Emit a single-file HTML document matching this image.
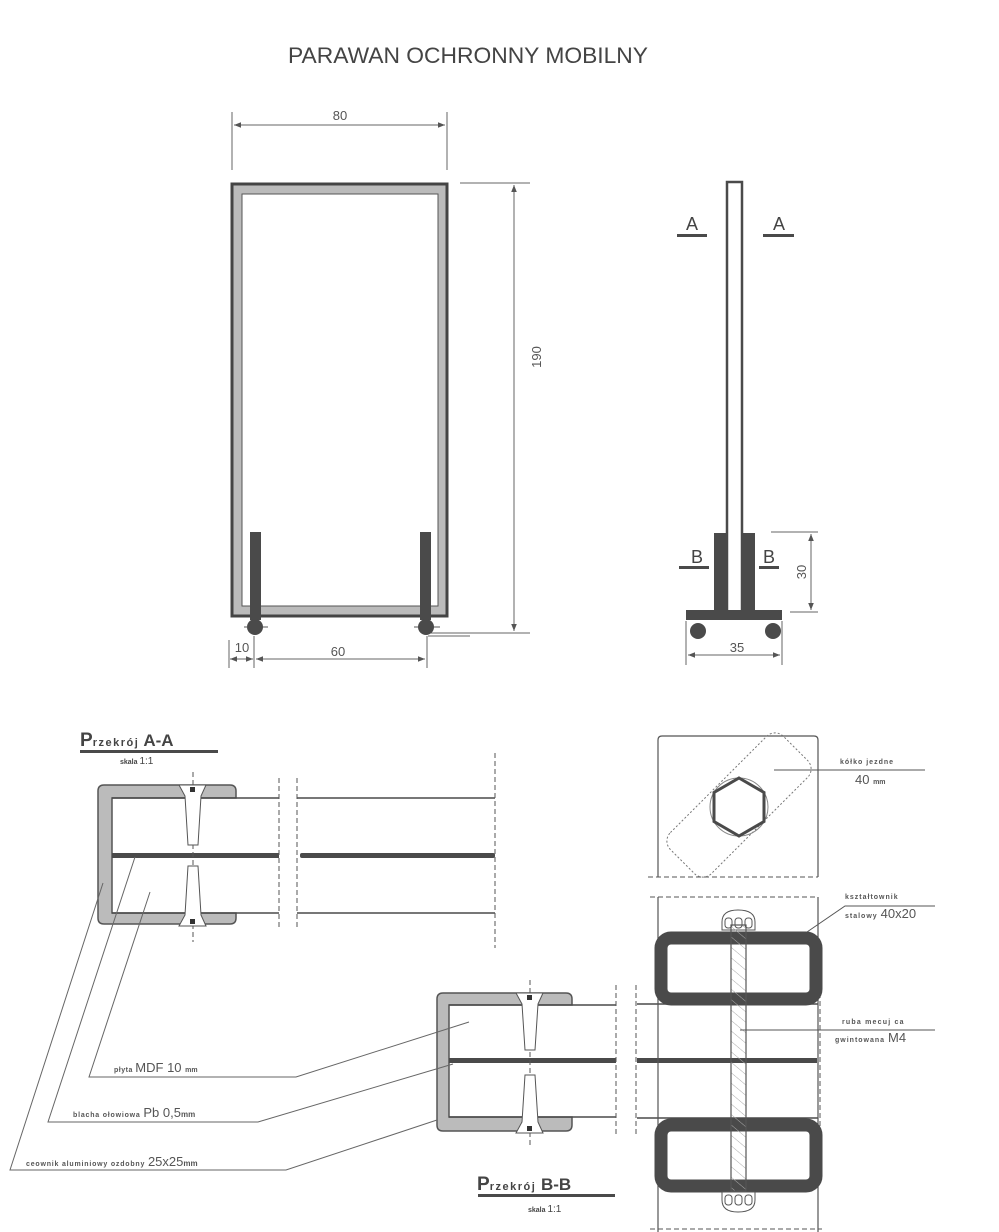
<!DOCTYPE html>
<html><head><meta charset="utf-8"><style>
html,body{margin:0;padding:0;background:#fff;}
svg{display:block;font-family:"Liberation Sans",sans-serif;}
</style></head><body>
<svg width="999" height="1232" viewBox="0 0 999 1232" xmlns="http://www.w3.org/2000/svg">
<defs>
<marker id="ar" viewBox="0 0 10 10" refX="10" refY="5" markerWidth="9" markerHeight="7" orient="auto-start-reverse"><path d="M0,1 L10,5 L0,9 z" fill="#555"/></marker>
<pattern id="hat" width="8" height="8" patternUnits="userSpaceOnUse" patternTransform="rotate(-50)"><line x1="0" y1="0" x2="0" y2="8" stroke="#aaa" stroke-width="1"/></pattern>
</defs>
<text x="468" y="63" text-anchor="middle" font-size="22" fill="#444" textLength="360" lengthAdjust="spacingAndGlyphs">PARAWAN OCHRONNY MOBILNY</text>

<!-- FRONT VIEW -->
<g stroke="#666" stroke-width="1">
<line x1="232" y1="112" x2="232" y2="170"/><line x1="447" y1="112" x2="447" y2="170"/>
<line x1="234" y1="125" x2="445" y2="125" marker-start="url(#ar)" marker-end="url(#ar)"/>
<line x1="460" y1="183" x2="530" y2="183"/><line x1="428" y1="633" x2="530" y2="633"/>
<line x1="514" y1="185" x2="514" y2="631" marker-start="url(#ar)" marker-end="url(#ar)"/>
<line x1="229" y1="640" x2="229" y2="668"/><line x1="254" y1="636" x2="254" y2="668"/><line x1="427" y1="636" x2="427" y2="668"/>
<line x1="230" y1="659" x2="253" y2="659" marker-start="url(#ar)" marker-end="url(#ar)"/>
<line x1="256" y1="659" x2="425" y2="659" marker-start="url(#ar)" marker-end="url(#ar)"/>
<line x1="428" y1="636" x2="470" y2="636"/>
</g>
<text x="340" y="120" text-anchor="middle" font-size="13" fill="#555">80</text>
<text x="0" y="0" font-size="13" fill="#555" text-anchor="middle" transform="translate(541,357) rotate(-90)">190</text>
<text x="242" y="652" text-anchor="middle" font-size="13" fill="#555">10</text>
<text x="338" y="656" text-anchor="middle" font-size="13" fill="#555">60</text>
<rect x="232" y="184" width="215" height="432" fill="#bbb" stroke="#444" stroke-width="3"/>
<rect x="242" y="194" width="196" height="412" fill="#fff" stroke="#555" stroke-width="1"/>
<rect x="250" y="532" width="11" height="88" fill="#4a4a4a"/>
<rect x="420" y="532" width="11" height="88" fill="#4a4a4a"/>
<circle cx="255" cy="627" r="8" fill="#4a4a4a"/><circle cx="426" cy="627" r="8" fill="#4a4a4a"/>
<g stroke="#555"><line x1="244" y1="627" x2="248" y2="627"/><line x1="263" y1="627" x2="268" y2="627"/><line x1="414" y1="627" x2="418" y2="627"/><line x1="434" y1="627" x2="440" y2="627"/></g>

<!-- SIDE VIEW -->
<rect x="727" y="182" width="15" height="430" fill="#fff" stroke="#4a4a4a" stroke-width="2.5"/>
<rect x="714" y="533" width="13" height="78" fill="#4a4a4a"/>
<rect x="742" y="533" width="13" height="78" fill="#4a4a4a"/>
<rect x="686" y="610" width="96" height="10" fill="#4a4a4a"/>
<circle cx="698" cy="631" r="8" fill="#4a4a4a"/><circle cx="773" cy="631" r="8" fill="#4a4a4a"/>
<g font-size="18" fill="#444" text-anchor="middle"><text x="692" y="230">A</text><text x="779" y="230">A</text><text x="697" y="563">B</text><text x="769" y="563">B</text></g>
<g fill="#4a4a4a"><rect x="677" y="234" width="30" height="3"/><rect x="763" y="234" width="31" height="3"/><rect x="679" y="566" width="30" height="3"/><rect x="759" y="566" width="20" height="3"/></g>
<g stroke="#666" stroke-width="1">
<line x1="771" y1="532" x2="818" y2="532"/><line x1="790" y1="612" x2="818" y2="612"/>
<line x1="811" y1="534" x2="811" y2="610" marker-start="url(#ar)" marker-end="url(#ar)"/>
<line x1="686" y1="621" x2="686" y2="665"/><line x1="782" y1="621" x2="782" y2="665"/>
<line x1="688" y1="655" x2="780" y2="655" marker-start="url(#ar)" marker-end="url(#ar)"/>
</g>
<text x="0" y="0" font-size="13" fill="#555" text-anchor="middle" transform="translate(806,572) rotate(-90)">30</text>
<text x="737" y="652" text-anchor="middle" font-size="13" fill="#555">35</text>

<!-- SECTION A-A -->
<text x="80" y="746" font-size="17" fill="#444" font-weight="bold"><tspan font-size="19">P</tspan><tspan font-size="11" letter-spacing="1.5">rzekrój</tspan> A-A</text>
<rect x="80" y="750" width="138" height="3" fill="#4a4a4a"/>
<text x="120" y="764" font-size="7" font-weight="bold" fill="#444">skala <tspan font-size="10" font-weight="normal">1:1</tspan></text>
<path d="M104,785 H230 Q236,785 236,791 V798 H112 V913 H236 V918 Q236,924 230,924 H104 Q98,924 98,918 V791 Q98,785 104,785 Z" fill="#bbb" stroke="#555" stroke-width="1.5"/>
<g stroke="#4a4a4a" stroke-width="1.5"><line x1="112" y1="798" x2="279" y2="798"/><line x1="112" y1="913" x2="279" y2="913"/><line x1="297" y1="798" x2="495" y2="798"/><line x1="297" y1="913" x2="495" y2="913"/></g>
<rect x="112" y="853" width="167" height="5" fill="#4a4a4a"/><rect x="300" y="853" width="195" height="5" fill="#4a4a4a" rx="2"/>
<g stroke="#555" stroke-width="1" stroke-dasharray="5,3" fill="none"><line x1="279" y1="778" x2="279" y2="930"/><line x1="297" y1="778" x2="297" y2="930"/><line x1="495" y1="753" x2="495" y2="948"/><line x1="193" y1="772" x2="193" y2="942"/></g>
<g fill="#fff" stroke="#555" stroke-width="1"><path d="M179,785 H206 L201,796 L198,845 H188 L185,796 Z"/><path d="M179,926 H206 L201,915 L198,866 H188 L185,915 Z"/></g>
<rect x="190" y="787" width="5" height="5" fill="#333"/><rect x="190" y="919" width="5" height="5" fill="#333"/>

<!-- SECTION B-B -->
<path d="M443,993 H566 Q572,993 572,999 V1005 H449 V1117 H572 V1125 Q572,1131 566,1131 H443 Q437,1131 437,1125 V999 Q437,993 443,993 Z" fill="#bbb" stroke="#555" stroke-width="1.5"/>
<g stroke="#4a4a4a" stroke-width="1.5"><line x1="449" y1="1005" x2="616" y2="1005"/><line x1="449" y1="1117" x2="616" y2="1117"/><line x1="637" y1="1004" x2="818" y2="1004"/><line x1="637" y1="1118" x2="818" y2="1118"/></g>
<rect x="449" y="1058" width="167" height="5" fill="#4a4a4a"/><rect x="637" y="1058" width="180" height="5" fill="#4a4a4a"/>
<g stroke="#555" stroke-width="1" stroke-dasharray="5,3" fill="none"><line x1="616" y1="985" x2="616" y2="1137"/><line x1="636" y1="985" x2="636" y2="1137"/><line x1="820" y1="985" x2="820" y2="1137"/><line x1="530" y1="980" x2="530" y2="1145"/></g>
<g fill="#fff" stroke="#555" stroke-width="1"><path d="M516,993 H543 L538,1004 L535,1050 H525 L522,1004 Z"/><path d="M516,1133 H543 L538,1122 L535,1075 H525 L522,1122 Z"/></g>
<rect x="527" y="995" width="5" height="5" fill="#333"/><rect x="527" y="1126" width="5" height="5" fill="#333"/>
<text x="477" y="1190" font-size="17" fill="#444" font-weight="bold"><tspan font-size="19">P</tspan><tspan font-size="11" letter-spacing="1.5">rzekrój</tspan> B-B</text>
<rect x="478" y="1194" width="137" height="3" fill="#4a4a4a"/>
<text x="528" y="1212" font-size="7" font-weight="bold" fill="#444">skala <tspan font-size="10" font-weight="normal">1:1</tspan></text>

<!-- leaders -->
<g stroke="#666" stroke-width="1" fill="none">
<polyline points="150,892 89,1077 296,1077 469,1022"/>
<polyline points="135,857 48,1122 258,1122 453,1064"/>
<polyline points="103,883 10,1170 286,1170 437,1120"/>
</g>
<text x="114" y="1072" font-size="13" fill="#555"><tspan font-size="7" font-weight="bold" letter-spacing="0.5">płyta </tspan>MDF 10 <tspan font-size="7" font-weight="bold">mm</tspan></text>
<text x="73" y="1117" font-size="13" fill="#555"><tspan font-size="7" font-weight="bold" letter-spacing="0.8">blacha ołowiowa </tspan>Pb 0,5<tspan font-size="8" font-weight="bold">mm</tspan></text>
<text x="26" y="1166" font-size="13" fill="#555"><tspan font-size="7" font-weight="bold" letter-spacing="0.8">ceownik aluminiowy ozdobny </tspan>25x25<tspan font-size="8" font-weight="bold">mm</tspan></text>

<!-- RIGHT DETAIL -->
<path d="M658,877 V740 Q658,736 662,736 H814 Q818,736 818,740 V877" fill="none" stroke="#555" stroke-width="1.2"/>
<line x1="648" y1="877" x2="818" y2="877" stroke="#555" stroke-dasharray="5,3"/>
<rect x="659" y="776" width="160" height="58" rx="12" transform="rotate(-45 739 805)" fill="none" stroke="#777" stroke-dasharray="2,2"/>
<circle cx="739" cy="807" r="29" fill="none" stroke="#888" stroke-width="1"/>
<polygon points="739,778 764,792.5 764,821.5 739,836 714,821.5 714,792.5" fill="#fff" stroke="#4a4a4a" stroke-width="3"/>
<line x1="774" y1="770" x2="925" y2="770" stroke="#555"/>
<text x="840" y="764" font-size="7" font-weight="bold" fill="#555" letter-spacing="1">kółko jezdne</text>
<text x="855" y="784" font-size="13" fill="#555">40 <tspan font-size="7" font-weight="bold">mm</tspan></text>

<line x1="650" y1="897" x2="818" y2="897" stroke="#555" stroke-dasharray="5,3"/>
<line x1="658" y1="897" x2="658" y2="1232" stroke="#555" stroke-width="1.2"/>
<line x1="818" y1="897" x2="818" y2="1232" stroke="#555" stroke-width="1.2"/>
<line x1="650" y1="1229" x2="822" y2="1229" stroke="#555" stroke-dasharray="5,3"/>
<rect x="661" y="938" width="155" height="61" rx="10" fill="#fff" stroke="#4a4a4a" stroke-width="13"/>
<rect x="661" y="1125" width="155" height="61" rx="10" fill="#fff" stroke="#4a4a4a" stroke-width="13"/>
<g fill="#fff" stroke="#555" stroke-width="1">
<path d="M722,930 V922 Q722,910 738,910 Q755,910 755,922 V930 Z"/>
<path d="M722,1192 V1200 Q722,1212 738,1212 Q755,1212 755,1200 V1192 Z"/>
</g>
<g fill="none" stroke="#555"><rect x="725" y="918" width="7" height="10" rx="3"/><rect x="735" y="918" width="7" height="10" rx="3"/><rect x="745" y="918" width="7" height="10" rx="3"/>
<rect x="725" y="1195" width="7" height="10" rx="3"/><rect x="735" y="1195" width="7" height="10" rx="3"/><rect x="745" y="1195" width="7" height="10" rx="3"/></g>
<rect x="731" y="925" width="15" height="266" fill="url(#hat)" stroke="#555" stroke-width="1.2"/>
<polyline points="807,932 845,906 935,906" fill="none" stroke="#555"/>
<text x="845" y="899" font-size="7" font-weight="bold" fill="#555" letter-spacing="1">kształtownik</text>
<text x="845" y="918" font-size="13" fill="#555"><tspan font-size="7" font-weight="bold" letter-spacing="1">stalowy </tspan>40x20</text>
<line x1="740" y1="1030" x2="935" y2="1030" stroke="#555"/>
<text x="842" y="1024" font-size="7" font-weight="bold" fill="#555" letter-spacing="1.2">ruba mecuj  ca</text>
<text x="835" y="1042" font-size="13" fill="#555"><tspan font-size="7" font-weight="bold" letter-spacing="1">gwintowana </tspan>M4</text>
</svg>
</body></html>
